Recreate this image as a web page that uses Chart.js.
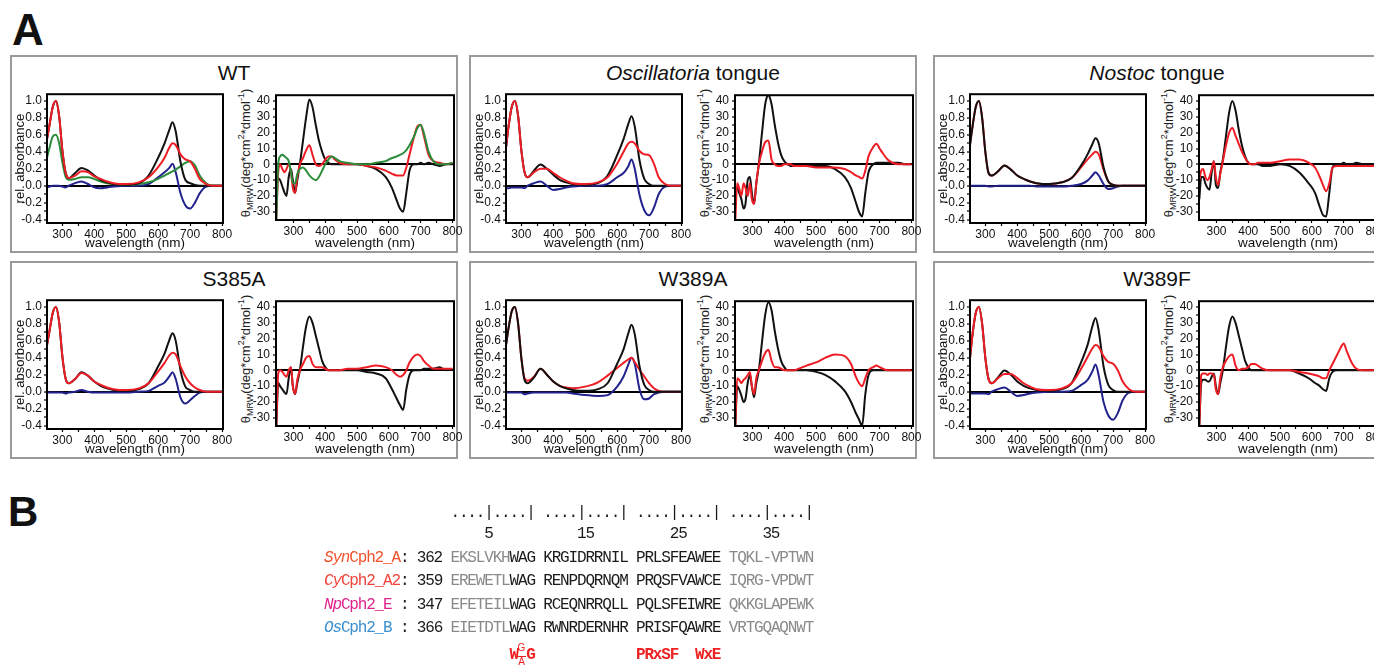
<!DOCTYPE html>
<html>
<head>
<meta charset="utf-8">
<script src="https://cdn.jsdelivr.net/npm/chart.js@4.4.1/dist/chart.umd.min.js"></script>
<style>
  body { margin: 0; width: 1374px; height: 669px; overflow: hidden; background: #fff; position: relative;
         font-family: "Liberation Sans", Arial, sans-serif; color: #111; }
  .big { position: absolute; font-weight: bold; line-height: 1; }
  .panel { position: absolute; width: 448px; height: 198px; }
  .frame { position: absolute; left: 0; top: 0; right: 0; bottom: 0; border: 2px solid #9a9a9a; box-sizing: border-box; }
  .ptitle { position: absolute; left: 0; right: 0; top: 7px; text-align: center; font-size: 21px; line-height: 1; color: #111; }
  .panel canvas { position: absolute; }
  .cdtitle { position: absolute; left: 236px; top: 98px; transform: translate(-50%, -50%) rotate(-90deg);
             white-space: nowrap; font-size: 13px; line-height: 1; color: #222; }
  .cdtitle sub { font-size: 9px; vertical-align: -3px; }
  .cdtitle sup { font-size: 9px; vertical-align: 6px; }
  .seq { position: absolute; left: 324px; font-family: "Liberation Mono", "DejaVu Sans Mono", monospace; font-size: 16px;
         letter-spacing: -1.17px; line-height: 20px; white-space: pre; color: #1a1a1a; will-change: transform; }
  .g { color: #8a8a8a; }
  .motif { color: #ee2222; font-weight: bold; }
  .stk { position: absolute; font-family: "Liberation Sans", Arial, sans-serif; font-size: 10px; line-height: 10px;
         color: #ee2222; width: 9px; text-align: center; will-change: transform; }
</style>
</head>
<body>

<div class="big" style="left:12px;top:8px;font-size:44px;">A</div>
<div class="big" style="left:8px;top:491px;font-size:42px;">B</div>

<div class="seq" style="top:503px">               ....|....| ....|....| ....|....| ....|....|</div>
<div class="seq" style="top:524px">                   5          15         25         35</div>
<div class="seq" style="top:548px"><span style="color:#f0522c"><i>Syn</i>Cph2_A</span>: 362 <span class="g">EKSLVKH</span>WAG KRGIDRRNIL PRLSFEAWEE <span class="g">TQKL-VPTWN</span></div>
<div class="seq" style="top:571px"><span style="color:#f0443c"><i>Cy</i>Cph2_A2</span>: 359 <span class="g">EREWETL</span>WAG RENPDQRNQM PRQSFVAWCE <span class="g">IQRG-VPDWT</span></div>
<div class="seq" style="top:595px"><span style="color:#e0228c"><i>Np</i>Cph2_E</span> : 347 <span class="g">EFETEIL</span>WAG RCEQNRRQLL PQLSFEIWRE <span class="g">QKKGLAPEWK</span></div>
<div class="seq" style="top:618px"><span style="color:#3a8fcf"><i>Os</i>Cph2_B</span> : 366 <span class="g">EIETDTL</span>WAG RWNRDERNHR PRISFQAWRE <span class="g">VRTGQAQNWT</span></div>
<div class="seq motif" style="top:645px">                      W G            PRxSF  WxE</div>
<div class="stk" style="left:517px;top:643px;">G</div>
<div class="stk" style="left:517px;top:656px;border-top:1px solid #ee2222;">A</div>

<script>
// ---- data ----
const absNm = [252, 260, 270, 280, 290, 300, 310, 320, 340, 360, 380, 400, 420, 440, 460, 500,
               540, 570, 600, 620, 635, 645, 655, 670, 685, 700, 715, 730, 750, 770, 800];
const cdNm = [246, 252, 258, 265, 272, 278, 285, 292, 298, 305, 312, 320, 330, 340, 350, 360,
              370, 380, 390, 400, 410, 420, 430, 445, 470, 500, 530, 560, 590, 610, 625, 635,
              645, 655, 665, 680, 690, 700, 710, 725, 740, 760, 780, 800];

const absYTicks = [-0.4, -0.3, -0.2, -0.1, 0, 0.1, 0.2, 0.3, 0.4, 0.5, 0.6, 0.7, 0.8, 0.9, 1.0];
const cdYTicks = [-30, -25, -20, -15, -10, -5, 0, 5, 10, 15, 20, 25, 30, 35, 40];
const xTicks = [300, 350, 400, 450, 500, 550, 600, 650, 700, 750, 800];

const panelTitles = ['WT', '<i>Oscillatoria</i> tongue', '<i>Nostoc</i> tongue', 'S385A', 'W389A', 'W389F'];

// WT
const wtAbsBlack = [0.55,0.72,0.93,1.0,0.82,0.42,0.16,0.09,0.15,0.21,0.18,0.12,0.07,0.04,0.02,0.01,0.03,0.12,0.33,0.5,0.66,0.75,0.64,0.28,0.07,0.03,0.01,0,0,0,0];
const wtAbsRed   = [0.55,0.72,0.93,1.0,0.82,0.42,0.16,0.09,0.12,0.17,0.16,0.11,0.08,0.05,0.03,0.02,0.04,0.1,0.22,0.33,0.45,0.5,0.48,0.37,0.31,0.29,0.2,0.08,0.02,0,0];
const wtAbsGreen = [0.33,0.45,0.58,0.6,0.5,0.28,0.11,0.07,0.08,0.1,0.1,0.08,0.05,0.03,0.02,0.01,0.02,0.04,0.08,0.12,0.15,0.17,0.19,0.23,0.27,0.29,0.24,0.12,0.03,0,0];
const wtAbsBlue  = [-0.02,-0.01,0,0,0,-0.01,-0.02,0,0.03,0.05,0.02,-0.02,-0.03,-0.02,-0.01,0,0,0.02,0.1,0.16,0.21,0.26,0.16,-0.09,-0.23,-0.27,-0.2,-0.09,-0.01,0,0];
const wtCdBlack  = [-12,-9,-10,-14,-18,-20,-8,-3,-10,-18,-10,0,15,30,41,36,25,15,8,3,1,0,0,0,0,0,-1,-3,-8,-15,-23,-28,-30,-18,-4,0,0,1,0,1,0,-1,0,0];
const wtCdRed    = [-35,-5,0,-3,-5,-3,0,-5,-15,-18,-8,0,4,9,12,6,0,-1,0,3,5,5,3,1,0,0,-1,-2,-4,-6,-7,-7,-7,-2,6,18,24,25,18,6,2,1,0,1];
const wtCdGreen  = [-35,0,5,6,5,4,2,-5,-12,-12,-6,-3,-2,-4,-7,-9,-10,-8,-4,0,3,5,4,2,1,0,0,1,2,4,5,6,7,9,12,18,23,25,20,8,2,0,0,1];

// Oscillatoria tongue
const oscAbsBlack = [0.45,0.7,0.93,1.0,0.82,0.42,0.16,0.1,0.18,0.25,0.2,0.13,0.07,0.04,0.02,0.01,0.03,0.12,0.36,0.55,0.73,0.82,0.7,0.3,0.08,0.02,0,0,0,0,0];
const oscAbsRed   = [0.45,0.7,0.93,1.0,0.82,0.42,0.16,0.1,0.16,0.2,0.2,0.15,0.1,0.06,0.03,0.02,0.04,0.1,0.26,0.4,0.5,0.52,0.5,0.41,0.37,0.36,0.26,0.1,0.02,0,0];
const oscAbsBlue  = [-0.03,-0.03,-0.02,-0.02,-0.02,-0.02,-0.03,0,0.03,0.05,0,-0.05,-0.04,-0.02,-0.01,0,0,0.02,0.1,0.15,0.23,0.31,0.2,-0.11,-0.29,-0.35,-0.26,-0.1,-0.01,0,0];
const oscCdBlack  = [-15,-15,-18,-22,-28,-25,-10,-8,-18,-25,-12,0,20,38,44,38,25,14,6,2,0,-1,-1,-1,-1,-1,-1,-3,-8,-15,-24,-30,-33,-18,-5,0,1,1,1,1,1,1,0,0];
const oscCdRed    = [-35,-12,-15,-20,-12,-15,-20,-12,-22,-25,-12,0,8,14,15,3,0,-1,-1,0,0,0,-1,-1,-1,-2,-2,-2,-3,-5,-7,-8,-9,-4,5,11,13,10,7,3,1,0,0,0];

// Nostoc tongue
const nosAbsBlack = [0.48,0.7,0.93,1.0,0.8,0.4,0.15,0.12,0.17,0.24,0.19,0.12,0.08,0.05,0.03,0.02,0.04,0.09,0.24,0.37,0.49,0.56,0.5,0.22,0.05,0.01,0,0,0,0,0];
const nosAbsRed   = [0.48,0.7,0.93,1.0,0.8,0.4,0.15,0.12,0.17,0.24,0.19,0.12,0.08,0.05,0.03,0.02,0.04,0.09,0.22,0.31,0.37,0.4,0.37,0.19,0.05,0.01,0,0,0,0,0];
const nosAbsBlue  = [0,0,0,0,0,0,-0.01,-0.01,0,0,0,0,0,0,-0.01,-0.01,-0.01,0,0.02,0.06,0.12,0.16,0.12,0.02,-0.04,-0.03,-0.01,0,0,0,0];
const nosCdBlack  = [-22,-8,-8,-12,-15,-16,-5,2,-13,-15,-5,3,18,33,40,34,22,12,5,1,0,0,0,-1,-1,0,-1,-5,-12,-18,-27,-32,-33,-18,-2,0,0,1,0,0,1,0,0,0];
const nosCdRed    = [-10,-4,-3,-8,-10,-8,-3,2,-8,-13,-6,2,12,20,23,18,13,8,4,1,0,0,1,1,1,2,3,3,1,-2,-8,-13,-17,-12,-2,-1,-1,-1,-1,-1,-1,-1,-1,-1];

// S385A
const s385AbsBlack = [0.55,0.72,0.93,1.0,0.82,0.42,0.16,0.1,0.15,0.23,0.19,0.12,0.07,0.04,0.02,0.01,0.03,0.1,0.3,0.45,0.61,0.69,0.6,0.25,0.06,0.02,0,0,0,0,0];
const s385AbsRed   = [0.55,0.72,0.93,1.0,0.82,0.42,0.16,0.1,0.15,0.22,0.19,0.12,0.08,0.05,0.03,0.02,0.04,0.1,0.24,0.34,0.43,0.46,0.44,0.3,0.18,0.1,0.05,0.02,0,0,0];
const s385AbsBlue  = [-0.01,-0.01,-0.01,-0.01,-0.01,-0.01,-0.02,-0.01,0,0.02,0,-0.01,-0.01,-0.01,-0.01,-0.01,0,0.01,0.07,0.11,0.18,0.23,0.15,-0.07,-0.14,-0.1,-0.05,-0.01,0,0,0];
const s385CdBlack  = [-35,-8,-10,-12,-14,-15,-5,2,-10,-15,-8,0,15,28,34,30,22,14,6,2,0,0,0,0,0,0,-1,-2,-5,-12,-18,-22,-25,-12,-3,0,0,0,1,1,1,2,0,1];
const s385CdRed    = [-35,-2,0,-1,-3,-4,0,2,-10,-15,-6,0,4,8,9,4,2,2,2,1,0,0,0,0,1,1,2,3,2,0,-3,-4,-3,0,5,9,10,9,6,3,1,1,1,1];

// W389A
const w389aAbsBlack = [0.55,0.75,0.95,1.0,0.8,0.4,0.14,0.1,0.17,0.27,0.2,0.12,0.07,0.04,0.02,0.01,0.03,0.1,0.33,0.5,0.69,0.79,0.68,0.3,0.08,0.02,0,0,0,0,0];
const w389aAbsRed   = [0.55,0.75,0.95,1.0,0.8,0.4,0.16,0.13,0.18,0.27,0.2,0.12,0.07,0.05,0.04,0.06,0.11,0.19,0.28,0.34,0.38,0.4,0.35,0.26,0.18,0.1,0.04,0.01,0,0,0];
const w389aAbsBlue  = [-0.01,-0.01,-0.01,-0.01,-0.01,-0.01,-0.03,-0.02,-0.01,-0.01,-0.01,-0.01,-0.01,-0.01,-0.02,-0.04,-0.05,-0.04,0.06,0.18,0.32,0.4,0.33,0.03,-0.09,-0.08,-0.03,-0.01,0,0,0];
const w389aCdBlack  = [-35,-10,-12,-16,-20,-18,-8,-3,-10,-17,-8,0,18,35,43,38,25,14,6,2,0,0,0,0,0,-1,-3,-7,-13,-20,-27,-31,-35,-15,-3,0,0,0,0,0,0,0,0,0];
const w389aCdRed    = [-35,-5,-6,-8,-6,-5,-3,-1,-10,-15,-5,0,6,11,13,6,2,2,1,0,0,0,0,1,3,5,8,10,9,4,-4,-8,-10,-5,0,2,3,2,1,0,0,0,0,0];

// W389F
const w389fAbsBlack = [0.4,0.68,0.93,1.0,0.8,0.4,0.15,0.1,0.17,0.25,0.2,0.12,0.07,0.04,0.02,0.01,0.03,0.1,0.35,0.55,0.77,0.87,0.72,0.3,0.08,0.02,0,0,0,0,0];
const w389fAbsRed   = [0.4,0.68,0.93,1.0,0.8,0.4,0.15,0.1,0.16,0.21,0.21,0.16,0.1,0.06,0.03,0.02,0.04,0.1,0.27,0.41,0.51,0.55,0.53,0.42,0.35,0.33,0.25,0.12,0.03,0,0];
const w389fAbsBlue  = [-0.02,-0.02,-0.02,-0.02,-0.02,-0.02,-0.03,0,0.03,0.05,0,-0.05,-0.04,-0.02,-0.01,0,0,0.01,0.08,0.14,0.24,0.32,0.19,-0.12,-0.28,-0.33,-0.25,-0.1,-0.01,0,0];
const w389fCdBlack  = [-35,-8,-6,-6,-7,-7,-4,-2,-10,-15,-8,0,15,28,34,30,22,14,6,2,0,0,0,0,0,0,0,-2,-5,-8,-10,-12,-13,-5,-1,0,0,0,0,0,0,0,0,0];
const w389fCdRed    = [-35,-3,-2,-2,-3,-2,-2,-3,-12,-15,-5,2,6,9,10,3,0,1,1,2,4,4,3,1,0,0,0,-1,-2,-3,-4,-5,-5,0,4,10,14,17,12,5,1,0,0,0];

// ---- styling / layout ----
const BLACK = '#111111', RED = '#ee1c24', BLUE = '#22228c', GREEN = '#2b8c3b';
const FONT = '"Liberation Sans", Arial, sans-serif';
const panelLeft = [10, 469, 933, 10, 469, 933];
const panelTop = [55, 55, 55, 261, 261, 261];

// first entry is drawn on top
const panelAbs = [
  [[wtAbsRed, RED], [wtAbsBlack, BLACK], [wtAbsGreen, GREEN], [wtAbsBlue, BLUE]],
  [[oscAbsRed, RED], [oscAbsBlack, BLACK], [oscAbsBlue, BLUE]],
  [[nosAbsBlack, BLACK], [nosAbsRed, RED], [nosAbsBlue, BLUE]],
  [[s385AbsRed, RED], [s385AbsBlack, BLACK], [s385AbsBlue, BLUE]],
  [[w389aAbsBlack, BLACK], [w389aAbsRed, RED], [w389aAbsBlue, BLUE]],
  [[w389fAbsRed, RED], [w389fAbsBlack, BLACK], [w389fAbsBlue, BLUE]]
];
const panelCd = [
  [[wtCdGreen, GREEN], [wtCdRed, RED], [wtCdBlack, BLACK]],
  [[oscCdRed, RED], [oscCdBlack, BLACK]],
  [[nosCdRed, RED], [nosCdBlack, BLACK]],
  [[s385CdRed, RED], [s385CdBlack, BLACK]],
  [[w389aCdRed, RED], [w389aCdBlack, BLACK]],
  [[w389fCdRed, RED], [w389fCdBlack, BLACK]]
];

// box round the plot area
const frameBox = {
  id: 'frameBox',
  afterDraw(chart) {
    const a = chart.chartArea, c = chart.ctx;
    c.save();
    c.strokeStyle = '#000';
    c.lineWidth = 2;
    c.strokeRect(a.left, a.top, a.right - a.left, a.bottom - a.top);
    c.restore();
  }
};

function makeChart(canvas, isAbs, series) {
  const nm = isAbs ? absNm : cdNm;
  const yTicks = isAbs ? absYTicks : cdYTicks;
  new Chart(canvas, {
    type: 'line',
    data: {
      datasets: series.map(s => ({
        data: nm.map((x, i) => ({ x: x, y: s[0][i] })),
        borderColor: s[1],
        borderWidth: 2,
        pointRadius: 0,
        cubicInterpolationMode: 'monotone',
        fill: false
      }))
    },
    options: {
      responsive: false,
      animation: false,
      devicePixelRatio: 1,
      layout: { padding: isAbs ? { left: 0, top: 7, right: 11, bottom: 0 } : { left: 0, top: 8, right: 14, bottom: 0 } },
      plugins: { legend: { display: false }, tooltip: { enabled: false } },
      scales: {
        x: {
          type: 'linear',
          min: isAbs ? 252 : 245,
          max: isAbs ? 803 : 805,
          afterBuildTicks: s => { s.ticks = xTicks.map(v => ({ value: v })); },
          afterFit: s => { s.height = isAbs ? 28 : 31; },
          border: { display: false },
          grid: { drawOnChartArea: false, tickLength: 3, tickWidth: 1.2, tickColor: '#000', color: '#000' },
          ticks: {
            autoSkip: false, maxRotation: 0, padding: 1, color: '#111',
            font: { size: 12, family: FONT },
            callback: v => (v % 100 === 0 ? String(v) : '')
          },
          title: { display: true, text: 'wavelength (nm)', color: '#111', font: { size: 13.5, family: FONT }, padding: { top: 0, bottom: 0 } }
        },
        y: {
          min: isAbs ? -0.44 : -35.2,
          max: isAbs ? 1.08 : 43.7,
          afterBuildTicks: s => { s.ticks = yTicks.map(v => ({ value: v })); },
          afterFit: s => { s.width = isAbs ? 35 : 28; },
          border: { display: false },
          grid: {
            drawOnChartArea: true, tickLength: 3, tickWidth: 1.2, tickColor: '#000',
            color: ctx => (ctx.tick && ctx.tick.value === 0 ? '#000' : 'rgba(0,0,0,0)'),
            lineWidth: ctx => (ctx.tick && ctx.tick.value === 0 ? 2 : 0)
          },
          ticks: {
            autoSkip: false, padding: isAbs ? 2 : 3, color: '#111',
            font: { size: 12, family: FONT },
            callback: v => isAbs
              ? (Math.round(v * 10) % 2 === 0 ? v.toFixed(1) : '')
              : (v % 10 === 0 ? String(v) : '')
          },
          title: isAbs
            ? { display: true, text: 'rel. absorbance', color: '#111', font: { size: 13, family: FONT }, padding: { top: 0.5, bottom: 0 } }
            : { display: false }
        }
      }
    },
    plugins: [frameBox]
  });
}

panelTitles.forEach((t, p) => {
  const panel = document.createElement('div');
  panel.className = 'panel';
  panel.style.left = panelLeft[p] + 'px';
  panel.style.top = panelTop[p] + 'px';
  panel.innerHTML =
    '<div class="frame"></div>' +
    '<div class="ptitle">' + t + '</div>' +
    '<div class="cdtitle">&theta;<sub>MRW</sub>(deg*cm<sup>2</sup>*dmol<sup>-1</sup>)</div>';
  document.body.appendChild(panel);

  const abs = document.createElement('canvas');
  abs.width = 222; abs.height = 166;
  abs.style.left = '2px'; abs.style.top = '30px';
  abs.style.width = '222px'; abs.style.height = '166px';
  panel.appendChild(abs);

  const cd = document.createElement('canvas');
  cd.width = 220; cd.height = 166;
  cd.style.left = '238px'; cd.style.top = '30px';
  cd.style.width = '220px'; cd.style.height = '166px';
  panel.appendChild(cd);

  makeChart(abs, true, panelAbs[p]);
  makeChart(cd, false, panelCd[p]);
});
</script>
</body>
</html>
